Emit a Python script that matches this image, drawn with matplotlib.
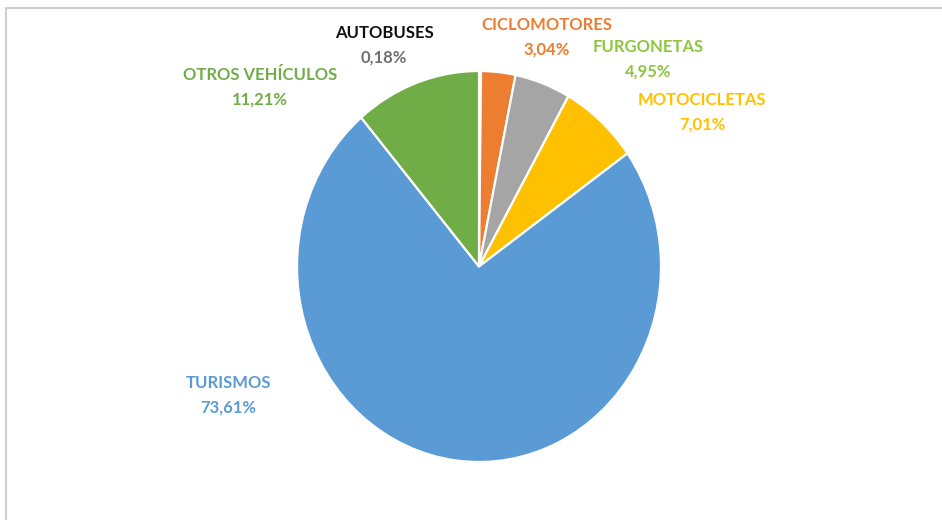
import matplotlib
matplotlib.use("Agg")
import matplotlib.pyplot as plt
from matplotlib.lines import Line2D

categories = ["AUTOBUSES", "CICLOMOTORES", "FURGONETAS", "MOTOCICLETAS", "TURISMOS", "OTROS VEHÍCULOS"]
values = [0.18, 3.04, 4.95, 7.01, 73.61, 11.21]
value_labels = ["0,18%", "3,04%", "4,95%", "7,01%", "73,61%", "11,21%"]
slice_colors = ["#4472C4", "#ED7D31", "#A5A5A5", "#FFC000", "#5B9BD5", "#70AD47"]
title_colors = ["#111111", "#ED7D31", "#8CC63F", "#FFC000", "#5B9BD5", "#70AD47"]
value_colors = ["#707070", "#ED7D31", "#8CC63F", "#FFC000", "#5B9BD5", "#70AD47"]
# label centre positions in pixels (x, y from top) of the category line
label_pos = [(384, 33), (547, 25), (648, 47), (702, 100), (228, 383), (260, 75)]

W, H = 942, 520
fig = plt.figure(figsize=(W / 100, H / 100), dpi=100)
fig.patch.set_facecolor("white")

# chart frame lines (top and left)
fig.add_artist(Line2D([6 / W, 1], [1 - 8 / H, 1 - 8 / H], color="#d0d0d0", lw=1.5))
fig.add_artist(Line2D([6 / W, 6 / W], [0, 1 - 8 / H], color="#d0d0d0", lw=1.5))

left, right, top, bottom = 297, 661, 71, 462
ax = fig.add_axes([left / W, 1 - bottom / H, (right - left) / W, (bottom - top) / H])
ax.pie(values, colors=slice_colors, startangle=90, counterclock=False, radius=1,
       wedgeprops=dict(edgecolor="white", linewidth=1.6))
ax.set_xlim(-1, 1)
ax.set_ylim(-1, 1)
ax.set_aspect("auto")
ax.axis("off")

fam = ["Lato", "DejaVu Sans"]
for cat, val, tc, vc, (x, y) in zip(categories, value_labels, title_colors, value_colors, label_pos):
    fig.text(x / W, 1 - y / H, cat, color=tc, ha="center", va="center",
             fontsize=12, fontweight="bold", family=fam)
    fig.text(x / W, 1 - (y + 24.5) / H, val, color=vc, ha="center", va="center",
             fontsize=12, fontweight="bold", family=fam)

fig.savefig("out.png", dpi=100, facecolor="white")
